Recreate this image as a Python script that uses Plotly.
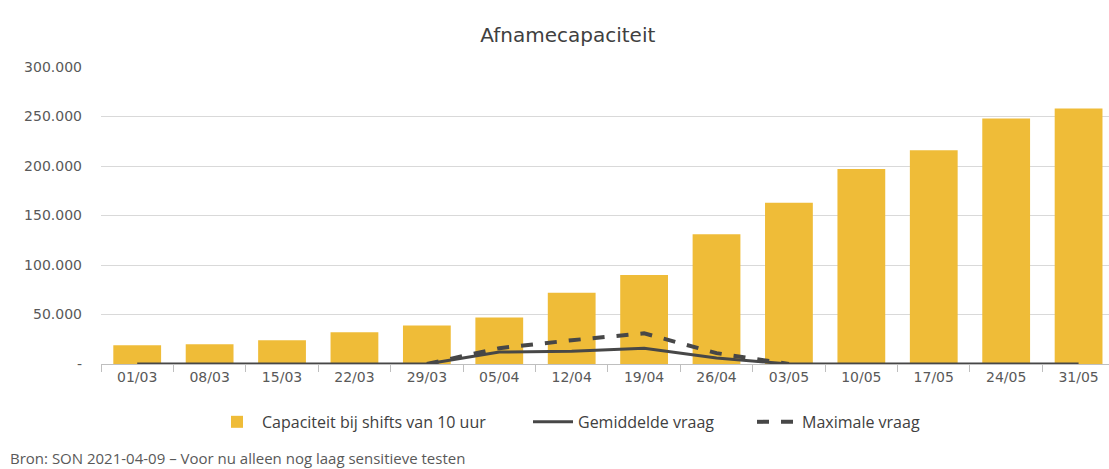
import plotly.graph_objects as go

categories = ["01/03", "08/03", "15/03", "22/03", "29/03", "05/04", "12/04",
              "19/04", "26/04", "03/05", "10/05", "17/05", "24/05", "31/05"]
capaciteit = [19000, 20000, 24000, 32000, 39000, 47000, 72000,
              90000, 131000, 163000, 197000, 216000, 248000, 258000]
gemiddelde = [0, 0, 0, 0, 0, 12000, 13000, 16000, 6000, 0, 0, 0, 0, 0]
maximale = [None, None, None, None, 0, 16000, 24000, 31000, 11000, 0,
            None, None, None, None]
ytickvals = [0, 50000, 100000, 150000, 200000, 250000, 300000]
yticktext = ["-", "50.000", "100.000", "150.000", "200.000", "250.000", "300.000"]

fig = go.Figure()
fig.add_trace(go.Bar(x=categories, y=capaciteit, name="Capaciteit bij shifts van 10 uur",
                     marker=dict(color="#EFBC38", line=dict(width=0)), legend="legend"))
fig.add_trace(go.Scatter(x=categories, y=gemiddelde, name="Gemiddelde vraag", mode="lines",
                         line=dict(color="#474747", width=3), legend="legend2"))
fig.add_trace(go.Scatter(x=categories, y=maximale, name="Maximale vraag", mode="lines",
                         line=dict(color="#474747", width=4, dash="dash"), legend="legend3"))

W = 1008
leg_y = -0.195
leg_font = dict(family="Open Sans", size=16, color="#404040")

def leg(px):
    return dict(orientation="h", x=(px - 101) / W, xanchor="left", y=leg_y, yanchor="middle",
                font=leg_font, itemwidth=40, bgcolor="rgba(0,0,0,0)")

fig.update_layout(
    width=1109, height=469,
    paper_bgcolor="white", plot_bgcolor="white",
    margin=dict(l=101, r=0, t=67, b=105),
    bargap=0.34,
    title=dict(text="Afnamecapaciteit", x=0.512, xanchor="center", y=0.925, yanchor="middle",
               font=dict(family="DejaVu Sans", size=20, color="#404040")),
    font=dict(family="DejaVu Sans", color="#595959"),
    showlegend=True,
    legend=leg(212),
    legend2=leg(528),
    legend3=leg(752),
    xaxis=dict(type="category", range=[-0.5, 13.42], showgrid=False,
               showline=True, linecolor="#BFBFBF", linewidth=1,
               ticks="outside", tickson="boundaries", ticklen=7, tickcolor="#BFBFBF",
               tickfont=dict(family="DejaVu Sans", size=14, color="#595959")),
    yaxis=dict(range=[0, 300000], tickvals=ytickvals, ticktext=yticktext,
               showgrid=True, gridcolor="#D9D9D9", gridwidth=1, zeroline=False,
               ticks="", ticklabelstandoff=18,
               tickfont=dict(family="DejaVu Sans", size=14, color="#595959")),
    annotations=[dict(text="Bron: SON 2021-04-09 \u2013 Voor nu alleen nog laag sensitieve testen",
                      xref="paper", yref="paper", x=-93/W, xanchor="left",
                      y=(364-458)/297, yanchor="middle", showarrow=False,
                      font=dict(family="Open Sans", size=15, color="#595959"))],
)
fig.write_html("out.html", config={"displayModeBar": False})

with open("out.html", "r", encoding="utf-8") as f:
    html = f.read()
html = html.replace("<head>", "<head><style>html,body{margin:0;padding:0;overflow:hidden;}</style>", 1)
with open("out.html", "w", encoding="utf-8") as f:
    f.write(html)
